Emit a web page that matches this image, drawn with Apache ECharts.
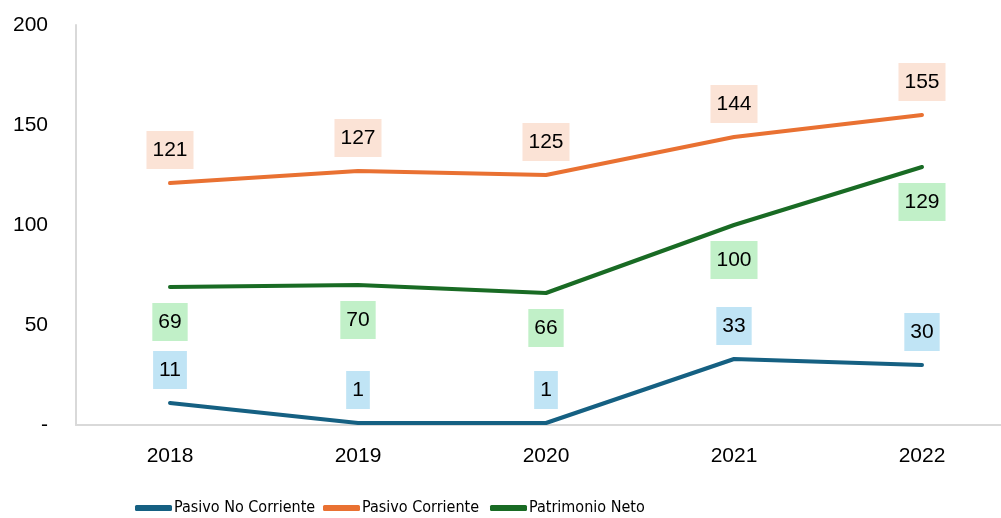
<!DOCTYPE html>
<html>
<head>
<meta charset="utf-8">
<script src="https://cdn.jsdelivr.net/npm/echarts@6/dist/echarts.min.js"></script>
<style>html,body{margin:0;padding:0;background:#fff}#c{width:1001px;height:518px}</style>
</head>
<body>
<div id="c"></div>
<script>
const categories = ['2018', '2019', '2020', '2021', '2022'];
const pasivoNoCorriente = [11, 1, 1, 33, 30];
const pasivoCorriente = [121, 127, 125, 144, 155];
const patrimonioNeto = [69, 70, 66, 100, 129];
const yTicks = [0, 50, 100, 150, 200];
const seriesNames = ['Pasivo No Corriente', 'Pasivo Corriente', 'Patrimonio Neto'];

const chart = echarts.init(document.getElementById('c'));
const font = 'Liberation Sans, Arial, sans-serif';
function lbl(pos, bg, dist) {
  return {
    show: true, position: pos, distance: dist,
    fontFamily: font, fontSize: 21, color: '#000',
    backgroundColor: bg, padding: [7, 6, 7, 6], lineHeight: 24
  };
}
function line(name, data, color, label) {
  return {
    name, type: 'line', data,
    symbol: 'circle', symbolSize: 0, showSymbol: true,
    itemStyle: { color }, lineStyle: { color, width: 4, cap: 'round' },
    label
  };
}
function leg(name, left) {
  return {
    left, top: 500, padding: 0, itemWidth: 37, itemHeight: 6,
    icon: 'roundRect',
    textStyle: { fontFamily: 'DejaVu Sans Condensed, Liberation Sans Narrow, sans-serif', fontSize: 16, color: '#000', padding: [0, 0, 0, -3] },
    data: [name]
  };
}
chart.setOption({
  animation: false,
  grid: { left: 76, top: 25, height: 400, width: 940, outerBoundsMode: 'none', containLabel: false },
  legend: [leg(seriesNames[0], 135), leg(seriesNames[1], 323), leg(seriesNames[2], 490)],
  xAxis: {
    type: 'category', data: categories, boundaryGap: true,
    axisLine: { lineStyle: { color: '#d9d9d9', width: 2 } },
    axisTick: { show: false },
    axisLabel: { fontFamily: font, fontSize: 21, color: '#000', margin: 21 }
  },
  yAxis: {
    type: 'value', min: 0, max: 200, interval: 50,
    axisLine: { show: true, lineStyle: { color: '#d9d9d9', width: 2 } },
    axisTick: { show: false },
    splitLine: { show: false },
    axisLabel: {
      fontFamily: font, fontSize: 21, color: '#000', margin: 28,
      formatter: v => (yTicks.includes(v) ? (v === 0 ? '-' : String(v)) : '')
    }
  },
  series: [
    line(seriesNames[0], pasivoNoCorriente, '#156082', lbl('top', '#c0e4f5', 14)),
    line(seriesNames[1], pasivoCorriente, '#e97132', lbl('top', '#fbe3d6', 14)),
    line(seriesNames[2], patrimonioNeto, '#196b24', lbl('bottom', '#c1f0c8', 16))
  ]
});
</script>
</body>
</html>
